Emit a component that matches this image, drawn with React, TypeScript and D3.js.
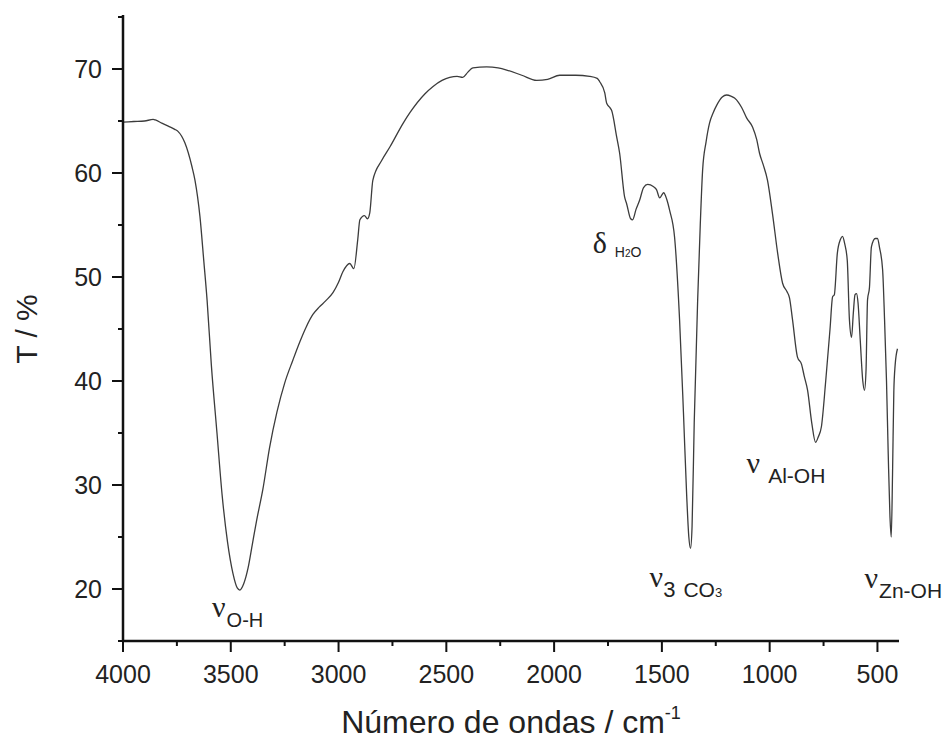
import React from "react";
import * as d3 from "d3";

// FTIR spectrum: wavenumber (cm-1) and transmittance (%)
const wavenumber = [
  4000, 3950, 3900, 3860, 3850, 3820, 3790, 3760, 3745, 3713, 3680, 3666, 3643, 3625, 3610,
  3590, 3564, 3540, 3515, 3490, 3470, 3458, 3440, 3420, 3400, 3380, 3351, 3320, 3286, 3250, 3212,
  3179, 3150, 3119, 3090, 3060, 3026, 3000, 2980, 2948, 2929, 2911, 2901, 2880, 2866, 2855, 2841,
  2800, 2762, 2700, 2669, 2600, 2563, 2520, 2484, 2450, 2424, 2400, 2377, 2313, 2260, 2220, 2150,
  2081, 2030, 1974, 1900, 1835, 1800, 1789, 1765, 1756, 1742, 1733, 1710, 1696, 1673, 1663, 1645,
  1636, 1620, 1603, 1585, 1566, 1540, 1525, 1510, 1500, 1492, 1478, 1464, 1441, 1418, 1400, 1385,
  1375, 1367, 1360, 1350, 1334, 1322, 1311, 1295, 1279, 1262, 1246, 1220, 1200, 1180, 1163, 1145,
  1130, 1107, 1079, 1060, 1047, 1030, 1010, 987, 963, 940, 920, 908, 894, 871, 852, 840,
  824, 805, 787, 775, 760, 740, 720, 708, 700, 686, 672, 662, 652, 640, 630, 620,
  612, 604, 597, 590, 580, 568, 560, 553, 546, 537, 528, 510, 500, 490, 476, 467,
  458, 450, 442, 436, 430, 424, 418, 407,
];

const transmittance = [
  64.9, 64.95, 65.0, 65.15, 65.1, 64.8, 64.5, 64.2, 64.0, 62.9, 60.6, 59.3, 55.8, 51.5, 47.8,
  41.5, 35.0, 29.0, 24.5, 21.5, 20.1, 19.9, 20.5, 22.0, 24.3, 26.6, 29.6, 33.6, 37.0, 39.8, 42.0,
  43.8, 45.2, 46.4, 47.1, 47.7, 48.5, 49.5, 50.5, 51.3, 50.8, 53.6, 55.5, 55.9, 55.6, 56.2, 59.3,
  61.2, 62.5, 64.8, 65.8, 67.6, 68.3, 68.9, 69.2, 69.3, 69.2, 69.7, 70.1, 70.2, 70.1, 69.9, 69.4,
  68.9, 69.0, 69.4, 69.4, 69.3, 69.1, 68.8, 67.7, 66.7, 66.3, 66.0, 63.5, 61.9, 57.7, 57.0, 55.6,
  55.5, 56.5, 57.4, 58.6, 58.9, 58.7, 58.4, 57.6, 57.9, 58.1, 57.5, 56.4, 53.8, 45.9, 37.0, 29.0,
  25.0, 23.9, 26.0, 36.0, 47.8, 55.0, 60.3, 63.0, 64.8, 65.8, 66.5, 67.3, 67.5, 67.4, 67.2, 66.8,
  66.3, 65.3, 64.4, 63.2, 61.9, 60.8, 59.3, 56.1, 52.3, 49.4, 48.6, 48.0, 45.9, 42.3, 41.6, 40.5,
  39.1, 36.0, 34.1, 34.6, 35.6, 40.0, 45.0, 48.1, 48.3, 52.3, 53.6, 53.9, 53.2, 51.6, 45.9, 44.2,
  46.5, 48.3, 48.4, 47.5, 44.0, 40.0, 39.1, 41.0, 47.8, 49.0, 52.9, 53.7, 53.7, 52.8, 50.7, 45.9,
  40.0, 33.0, 27.0, 25.0, 31.0, 39.0, 41.5, 43.1,
];

const xMajorTicks = [4000, 3500, 3000, 2500, 2000, 1500, 1000, 500];
const xMinorTicks = [3750, 3250, 2750, 2250, 1750, 1250, 750];
const yMajorTicks = [20, 30, 40, 50, 60, 70];
const yMinorTicks = [15, 25, 35, 45, 55, 65, 75];

// Band assignments: symbol, subscript, anchor (wavenumber, T)
const bandSymbol = ["ν", "δ", "ν", "ν", "ν"];
const bandSub = ["O-H", "H2O", "3 CO3", "Al-OH", "Zn-OH"];
const bandWave = [3587, 1821, 1557, 1107, 560];
const bandT = [17.3, 52.3, 20.2, 31.2, 20.1];

const W = 950;
const H = 740;
const left = 123;
const right = 899;
const top = 17;
const bottom = 641;

const SANS = "'Liberation Sans', Arial, Helvetica, sans-serif";
const SERIF = "'Liberation Serif', 'Times New Roman', serif";

function Subscript({ text }: { text: string }) {
  if (text === "H2O") {
    return (
      <tspan dx={8} dy={4} fontSize={14} fontFamily={SANS}>
        H<tspan fontSize={10}>2</tspan>O
      </tspan>
    );
  }
  if (text === "3 CO3") {
    return (
      <tspan dy={10} fontFamily={SANS}>
        <tspan fontSize={22}>3</tspan>
        <tspan fontSize={21} dx={8}>CO</tspan>
        <tspan fontSize={13}>3</tspan>
      </tspan>
    );
  }
  const gap = text === "Al-OH" ? 8 : 1;
  const size = text === "O-H" ? 20 : 21;
  return (
    <tspan dx={gap} dy={10} fontSize={size} fontFamily={SANS}>
      {text}
    </tspan>
  );
}

export default function App() {
  const x = d3.scaleLinear().domain([4000, 400]).range([left, right]);
  const y = d3.scaleLinear().domain([15, 75]).range([bottom, top]);

  const points = wavenumber.map((w, i) => [w, transmittance[i]] as [number, number]);
  const line = d3
    .line<[number, number]>()
    .x((d) => x(d[0]))
    .y((d) => y(d[1]))
    .curve(d3.curveMonotoneX);

  return (
    <svg
      width={W}
      height={H}
      style={{ position: "absolute", left: 0, top: 0, background: "#fff" }}
    >
      <path d={line(points) ?? ""} fill="none" stroke="#3c3c3c" strokeWidth={1.3} />

      {/* axes */}
      <line x1={left} x2={left} y1={top - 2} y2={bottom} stroke="#111" strokeWidth={2.5} />
      <line x1={left} x2={right} y1={bottom} y2={bottom} stroke="#111" strokeWidth={2.5} />

      {yMajorTicks.map((t) => (
        <g key={"ym" + t}>
          <line x1={left - 11} x2={left} y1={y(t)} y2={y(t)} stroke="#111" strokeWidth={2} />
          <text
            x={left - 21}
            y={y(t)}
            dy="0.36em"
            textAnchor="end"
            fontFamily={SANS}
            fontSize={25}
            fill="#222"
          >
            {t}
          </text>
        </g>
      ))}
      {yMinorTicks.map((t) => (
        <line key={"yn" + t} x1={left - 5} x2={left} y1={y(t)} y2={y(t)} stroke="#111" strokeWidth={2} />
      ))}

      {xMajorTicks.map((t) => (
        <g key={"xm" + t}>
          <line x1={x(t)} x2={x(t)} y1={bottom} y2={bottom + 11} stroke="#111" strokeWidth={2} />
          <text
            x={x(t)}
            y={bottom + 42}
            textAnchor="middle"
            fontFamily={SANS}
            fontSize={25}
            fill="#222"
          >
            {t}
          </text>
        </g>
      ))}
      {xMinorTicks.map((t) => (
        <line key={"xn" + t} x1={x(t)} x2={x(t)} y1={bottom} y2={bottom + 5} stroke="#111" strokeWidth={2} />
      ))}

      {/* axis titles */}
      <text
        x={(left + right) / 2}
        y={733}
        textAnchor="middle"
        fontFamily={SANS}
        fontSize={32}
        fill="#222"
      >
        Número de ondas / cm<tspan fontSize={18} dy={-14}>-1</tspan>
      </text>
      <text
        transform={`translate(37, ${(top + bottom) / 2}) rotate(-90)`}
        textAnchor="middle"
        fontFamily={SANS}
        fontSize={30}
        fill="#222"
      >
        T / %
      </text>

      {/* band labels */}
      {bandSymbol.map((s, i) => (
        <text key={"b" + i} x={x(bandWave[i])} y={y(bandT[i])} fill="#222">
          <tspan fontFamily={SERIF} fontSize={30}>
            {s}
          </tspan>
          <Subscript text={bandSub[i]} />
        </text>
      ))}
    </svg>
  );
}
